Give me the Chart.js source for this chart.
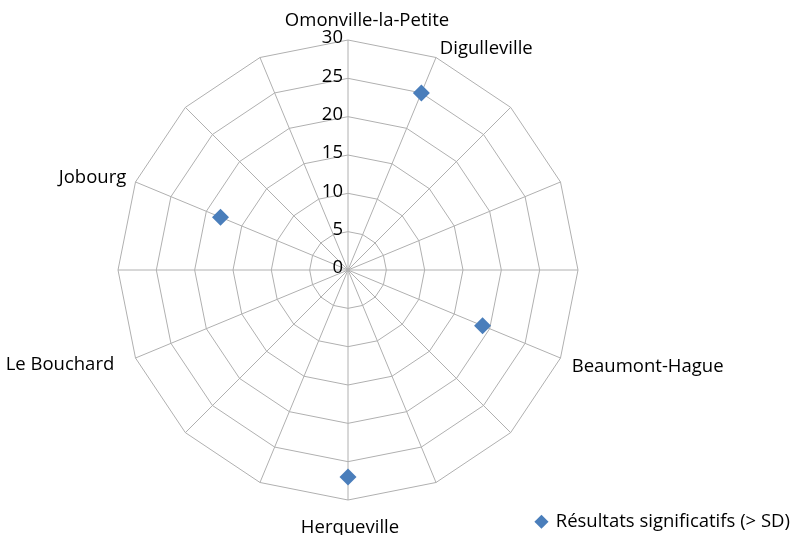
<!DOCTYPE html>
<html><head><meta charset="utf-8">
<script src="https://cdn.jsdelivr.net/npm/chart.js@4/dist/chart.umd.min.js"></script>
<style>html,body{margin:0;padding:0;background:#fff;}#wrap{width:794px;height:535px;position:relative;}</style>
</head><body><div id="wrap"><canvas id="c" width="794" height="535"></canvas></div>
<script>
const categories = ["Omonville-la-Petite","Digulleville","","","","Beaumont-Hague","","","Herqueville","","","Le Bouchard","","Jobourg","",""];
const seriesName = "Résultats significatifs (> SD)";
const seriesValues = [null,25,null,null,null,19,null,null,27,null,null,null,null,18,null,null];
const tickValues = [0,5,10,15,20,25,30];

const FONT = '"Open Sans", sans-serif';
const FSIZE = 18.5;
const GRID = '#B0B0B0';

const labelPlugin = {
  id: 'radarText',
  afterDraw(chart) {
    const s = chart.scales.r, ctx = chart.ctx;
    ctx.save();
    ctx.font = FSIZE + 'px ' + FONT;
    ctx.fillStyle = '#000';
    ctx.textAlign = 'right';
    ctx.textBaseline = 'middle';
    tickValues.forEach(v => {
      const d = s.getDistanceFromCenterForValue(v);
      ctx.fillText(String(v), s.xCenter - 5, s.yCenter - d - 2);
    });
    const nudge = {0: [19, 0], 5: [2, 5], 8: [2, 8], 11: [-12, 3]};
    chart.data.labels.forEach((lab, i) => {
      if (!lab) return;
      const a = s.getIndexAngle(i);
      const sn = Math.sin(a), cs = Math.cos(a);
      const p = s.getPointPosition(i, s.drawingArea + 10);
      let x = p.x, y = p.y;
      if (sn > 0.05) ctx.textAlign = 'left';
      else if (sn < -0.05) ctx.textAlign = 'right';
      else ctx.textAlign = 'center';
      if (Math.abs(sn) <= 0.05) ctx.textBaseline = cs > 0 ? 'bottom' : 'top';
      else ctx.textBaseline = 'middle';
      const n = nudge[i] || [0, 0];
      ctx.fillText(lab, x + n[0], y + n[1]);
    });
    ctx.restore();
  }
};

new Chart(document.getElementById('c'), {
  type: 'radar',
  data: {
    labels: categories,
    datasets: [{
      label: seriesName,
      data: seriesValues,
      showLine: false,
      borderWidth: 0,
      borderColor: '#4A7EBB',
      backgroundColor: '#4A7EBB',
      pointStyle: 'rectRot',
      pointRadius: 8.5,
      pointHoverRadius: 8.5,
      pointBorderWidth: 0,
      pointBackgroundColor: '#4A7EBB',
      pointBorderColor: '#4A7EBB',
      fill: false,
      spanGaps: false
    }]
  },
  options: {
    responsive: false,
    animation: false,
    events: [],
    layout: { padding: { left: 10, right: 0, top: 10, bottom: -6 } },
    plugins: {
      tooltip: { enabled: false },
      legend: {
        display: true,
        position: 'bottom',
        align: 'end',
        labels: {
          usePointStyle: true,
          pointStyle: 'rectRot',
          boxHeight: 10,
          boxWidth: 10,
          color: '#000',
          font: { family: FONT, size: FSIZE },
          padding: 4
        }
      }
    },
    scales: {
      r: {
        min: 0,
        max: 30,
        ticks: { stepSize: 5, display: false },
        grid: { color: GRID, lineWidth: 1 },
        angleLines: { color: GRID, lineWidth: 1 },
        pointLabels: { display: false },
        afterFit(scale) {
          scale.xCenter = 348;
          scale.yCenter = 270;
          scale.drawingArea = 230;
        }
      }
    }
  },
  plugins: [labelPlugin]
});
</script></body></html>
